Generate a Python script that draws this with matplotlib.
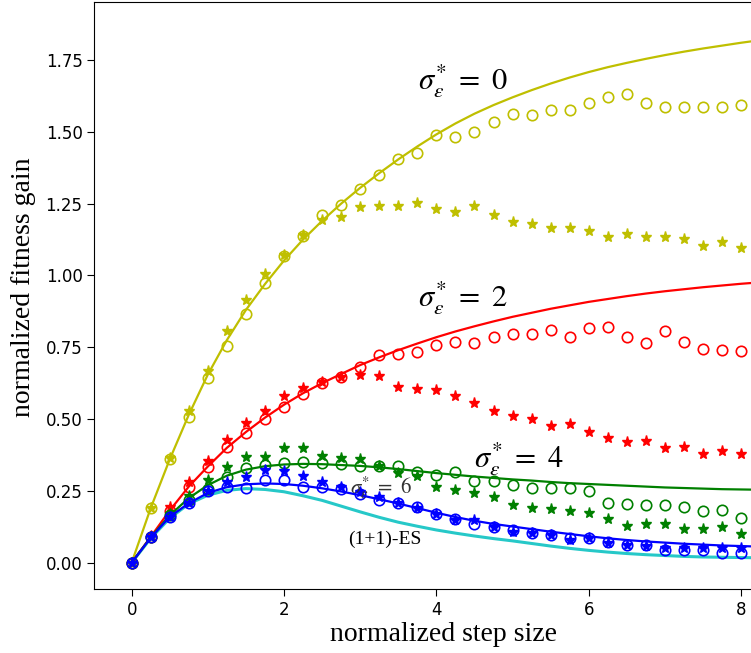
import numpy as np
import matplotlib.pyplot as plt

# step sizes for the theory curves and for the simulated points
sigma_line = np.arange(0, 8.26, 0.25)
sigma_pts = np.arange(0, 8.01, 0.25)

# theory curves, one per noise level, plus the noise-free (1+1)-ES
line_0 = [0, 0.19, 0.36, 0.515, 0.655, 0.775, 0.88, 0.97, 1.052, 1.125, 1.19, 1.25,
          1.305, 1.356, 1.404, 1.449, 1.491, 1.529, 1.563, 1.593, 1.620, 1.645, 1.668, 1.689,
          1.708, 1.725, 1.740, 1.754, 1.767, 1.779, 1.790, 1.800, 1.810, 1.819]
line_2 = [0, 0.09, 0.182, 0.265, 0.335, 0.40, 0.455, 0.505, 0.55, 0.59, 0.625, 0.657,
          0.688, 0.715, 0.74, 0.763, 0.785, 0.805, 0.823, 0.84, 0.856, 0.87, 0.884, 0.896,
          0.908, 0.918, 0.928, 0.937, 0.945, 0.952, 0.959, 0.965, 0.971, 0.976]
line_4 = [0, 0.088, 0.165, 0.225, 0.27, 0.303, 0.324, 0.336, 0.342, 0.344, 0.343, 0.340,
          0.337, 0.332, 0.326, 0.319, 0.312, 0.306, 0.300, 0.295, 0.290, 0.286, 0.281, 0.277,
          0.274, 0.271, 0.268, 0.265, 0.262, 0.260, 0.258, 0.256, 0.255, 0.254]
line_6 = [0, 0.087, 0.16, 0.207, 0.243, 0.263, 0.273, 0.276, 0.274, 0.268, 0.259, 0.248,
          0.235, 0.221, 0.206, 0.19, 0.174, 0.159, 0.146, 0.135, 0.126, 0.117, 0.108, 0.100,
          0.092, 0.085, 0.079, 0.074, 0.070, 0.066, 0.063, 0.060, 0.058, 0.056]
line_es = [0, 0.085, 0.155, 0.205, 0.235, 0.252, 0.258, 0.255, 0.247, 0.233, 0.217, 0.197,
           0.177, 0.158, 0.141, 0.127, 0.114, 0.103, 0.093, 0.084, 0.076, 0.067, 0.058, 0.050,
           0.043, 0.037, 0.032, 0.028, 0.025, 0.022, 0.020, 0.019, 0.018, 0.017]

# simulated gains (circles and stars) for each noise level
circ_0 = [0, 0.189, 0.36, 0.506, 0.644, 0.756, 0.865, 0.972, 1.067, 1.138, 1.210, 1.245,
          1.300, 1.349, 1.407, 1.425, 1.49, 1.481, 1.500, 1.535, 1.562, 1.557, 1.576, 1.576,
          1.599, 1.620, 1.632, 1.602, 1.585, 1.587, 1.587, 1.587, 1.592]
star_0 = [0, 0.189, 0.363, 0.527, 0.668, 0.806, 0.914, 1.005, 1.071, 1.141, 1.193, 1.204,
          1.237, 1.241, 1.241, 1.251, 1.23, 1.222, 1.243, 1.210, 1.187, 1.179, 1.164, 1.164,
          1.156, 1.135, 1.144, 1.135, 1.133, 1.126, 1.102, 1.117, 1.094]
circ_2 = [0, 0.09, 0.18, 0.265, 0.334, 0.402, 0.453, 0.500, 0.543, 0.589, 0.624, 0.645,
          0.68, 0.723, 0.726, 0.735, 0.758, 0.769, 0.764, 0.787, 0.795, 0.795, 0.809, 0.786,
          0.818, 0.821, 0.786, 0.764, 0.805, 0.768, 0.745, 0.741, 0.738]
star_2 = [0, 0.092, 0.195, 0.282, 0.355, 0.427, 0.487, 0.528, 0.580, 0.607, 0.630, 0.648,
          0.652, 0.650, 0.610, 0.605, 0.601, 0.580, 0.555, 0.529, 0.511, 0.500, 0.476, 0.482,
          0.454, 0.433, 0.419, 0.424, 0.400, 0.404, 0.377, 0.389, 0.377]
circ_4 = [0, 0.088, 0.165, 0.218, 0.255, 0.30, 0.328, 0.340, 0.348, 0.351, 0.348, 0.345,
          0.336, 0.336, 0.336, 0.317, 0.305, 0.317, 0.285, 0.284, 0.270, 0.259, 0.259, 0.259,
          0.251, 0.209, 0.204, 0.201, 0.201, 0.195, 0.180, 0.183, 0.157]
star_4 = [0, 0.09, 0.17, 0.232, 0.288, 0.334, 0.369, 0.367, 0.398, 0.398, 0.371, 0.363,
          0.360, 0.336, 0.311, 0.302, 0.263, 0.253, 0.241, 0.228, 0.200, 0.192, 0.187, 0.181,
          0.172, 0.152, 0.128, 0.135, 0.135, 0.117, 0.118, 0.123, 0.099]
circ_6 = [0, 0.088, 0.158, 0.207, 0.251, 0.265, 0.259, 0.288, 0.288, 0.265, 0.265, 0.255,
          0.239, 0.218, 0.207, 0.195, 0.17, 0.151, 0.135, 0.123, 0.114, 0.104, 0.096, 0.085,
          0.085, 0.073, 0.062, 0.062, 0.046, 0.044, 0.046, 0.033, 0.035]
star_6 = [0, 0.088, 0.16, 0.207, 0.25, 0.282, 0.30, 0.322, 0.319, 0.302, 0.282, 0.265,
          0.247, 0.230, 0.207, 0.189, 0.17, 0.149, 0.149, 0.123, 0.108, 0.104, 0.096, 0.079,
          0.085, 0.070, 0.062, 0.058, 0.050, 0.050, 0.050, 0.050, 0.050]

plt.rcParams['mathtext.fontset'] = 'stix'

fig = plt.figure(figsize=(7.51, 6.53), dpi=100)
ax = fig.add_axes([0.1256, 0.098, 0.8744, 0.899])

series = [
    ('y', line_0, circ_0, star_0),
    ('r', line_2, circ_2, star_2),
    ('g', line_4, circ_4, star_4),
    ('b', line_6, circ_6, star_6),
]
for color, line, circ, star in series:
    ax.plot(sigma_line, line, color=color, lw=1.6)
    ax.plot(sigma_pts, circ, 'o', mfc='none', mec=color, ms=7.5, mew=1.2)
    ax.plot(sigma_pts, star, '*', color=color, ms=8)

ax.plot(sigma_line, line_es, color='c', lw=2.2, alpha=0.85, zorder=1.5)

# curve labels
ax.text(3.76, 1.677, r'$\sigma_{\epsilon}^{*}\ =\ 0$', fontsize=22, va='center')
ax.text(3.76, 0.921, r'$\sigma_{\epsilon}^{*}\ =\ 2$', fontsize=22, va='center')
ax.text(4.49, 0.36, r'$\sigma_{\epsilon}^{*}\ =\ 4$', fontsize=22, va='center')
ax.text(2.86, 0.26, r'$\sigma_{\epsilon}^{*}\ =\ 6$', fontsize=15, va='center', color='#333333')
ax.text(2.84, 0.082, '(1+1)-ES', fontsize=14, va='center', family='Liberation Serif')

ax.set_xlim(-0.49, 8.13)
ax.set_ylim(-0.0915, 1.952)
ax.set_xticks([0, 2, 4, 6, 8])
ax.set_yticks([0, 0.25, 0.5, 0.75, 1.0, 1.25, 1.5, 1.75])
ax.set_yticklabels(['0.00', '0.25', '0.50', '0.75', '1.00', '1.25', '1.50', '1.75'])
ax.tick_params(labelsize=12, length=5)
ax.spines['right'].set_visible(False)

ax.set_xlabel('normalized step size', fontsize=20, family='Liberation Serif')
ax.set_ylabel('normalized fitness gain', fontsize=20, family='Liberation Serif')
ax.xaxis.set_label_coords((443 - 94.3) / (751 - 94.3), -0.057)
ax.yaxis.set_label_coords(-0.089, (589 - 287) / 587)

fig.savefig('out.png', dpi=100)
